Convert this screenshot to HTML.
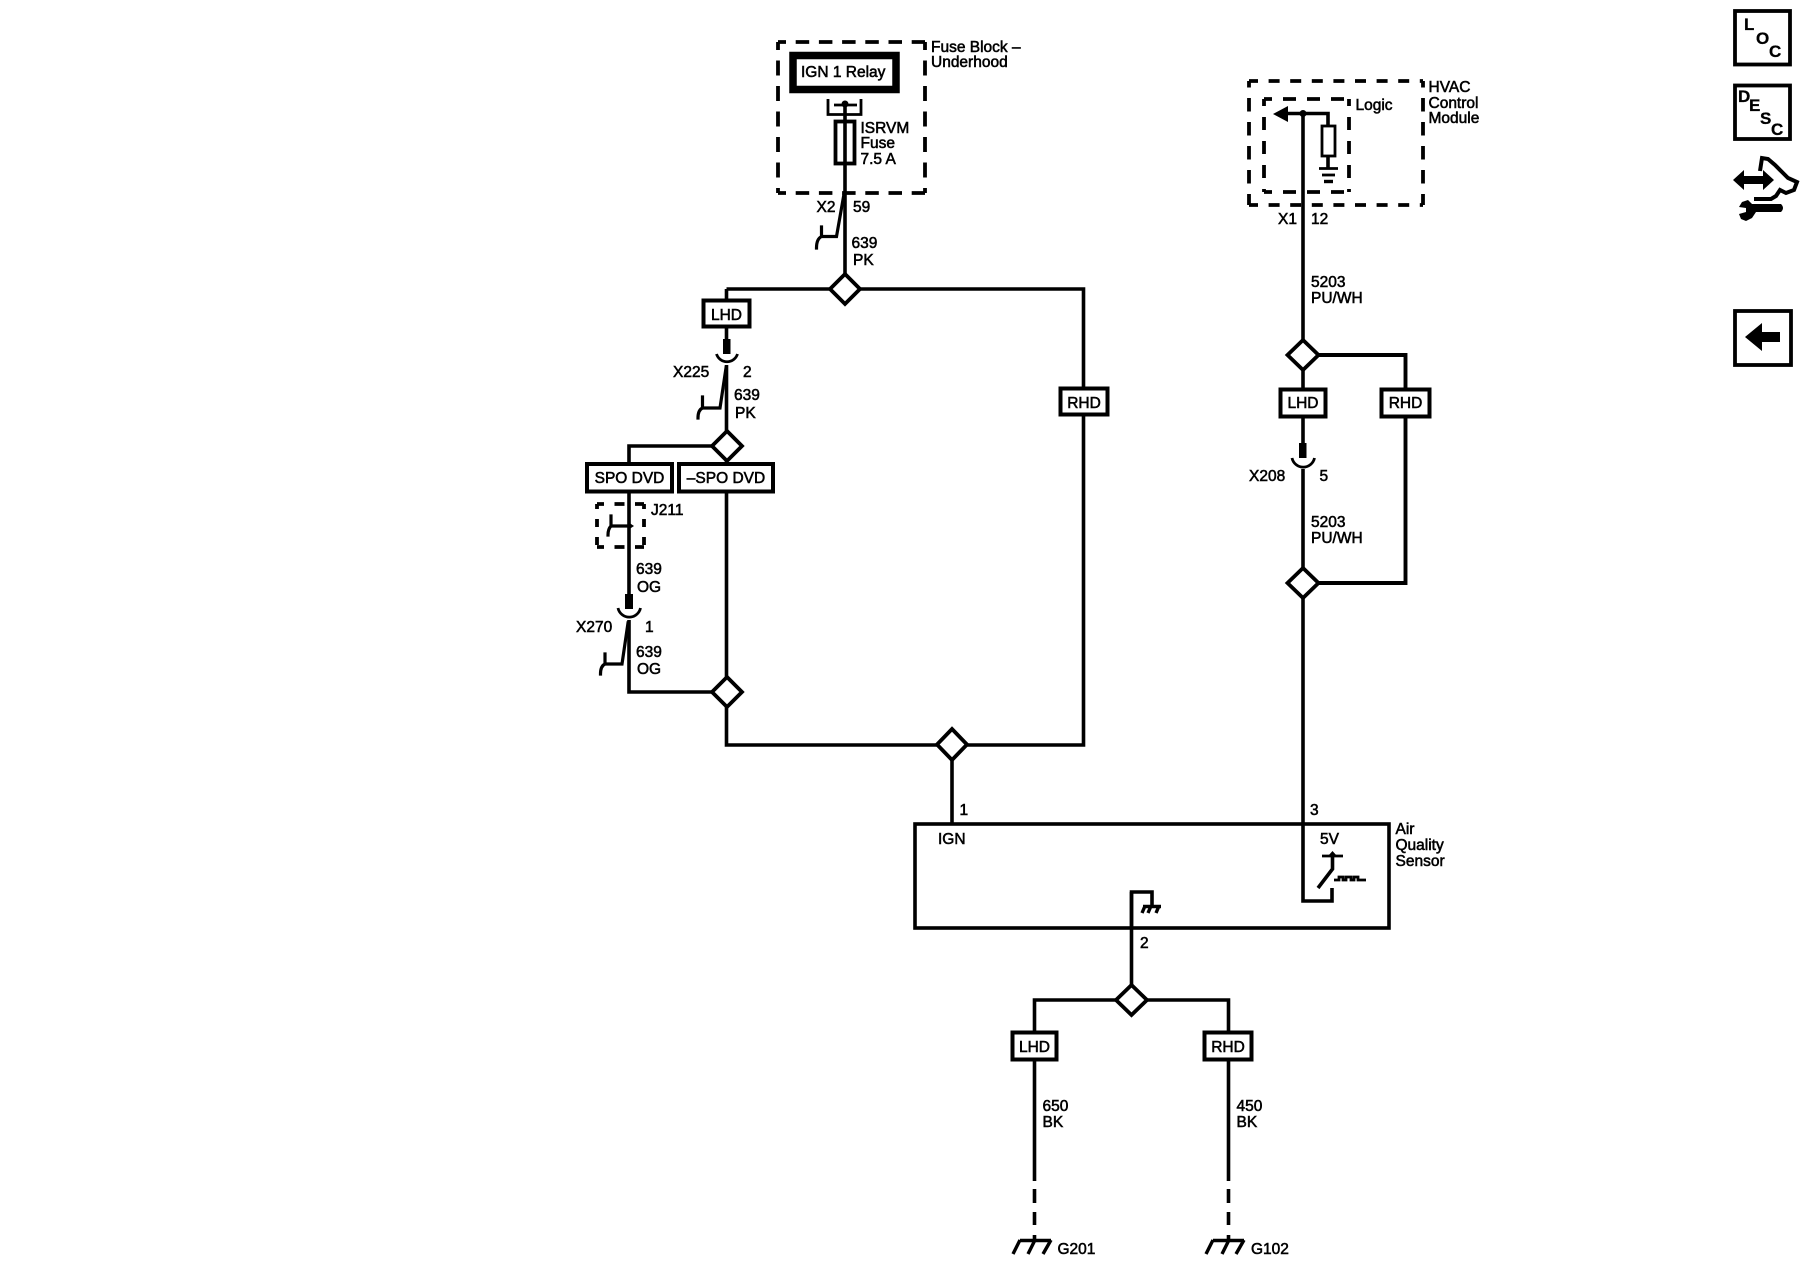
<!DOCTYPE html>
<html><head><meta charset="utf-8"><style>
html,body{margin:0;padding:0;background:#fff}
svg{display:block}
text{font-family:"Liberation Sans",Arial,sans-serif;font-size:15.5px;fill:#000;stroke:#000;stroke-width:.55}
.m{text-anchor:middle}
.b{font-weight:bold;font-size:17px;stroke-width:.3}
.w{fill:none;stroke:#000;stroke-width:3.6}
.t{fill:none;stroke:#000;stroke-width:2.8}
.d{fill:#fff;stroke:#000;stroke-width:3.8;stroke-linejoin:miter}
.r{fill:#fff;stroke:#000;stroke-width:4}
</style></head><body>
<svg width="1800" height="1280" viewBox="0 0 1800 1280" xmlns="http://www.w3.org/2000/svg">
<!-- Dashed enclosures -->
<g fill="none" stroke="#000" stroke-width="3.8">
<path d="M778 42H925" stroke-dasharray="13.5 9.7" stroke-dashoffset="5.5"/>
<path d="M778 193H925" stroke-dasharray="13.5 9.7" stroke-dashoffset="5.5"/>
<path d="M778 42V193" stroke-dasharray="15 10.5" stroke-dashoffset="7"/>
<path d="M925 42V193" stroke-dasharray="15 10.5" stroke-dashoffset="7"/>
<path d="M1249 81H1423" stroke-dasharray="11 10.6" stroke-dashoffset="2"/>
<path d="M1249 205H1423" stroke-dasharray="11 10.6" stroke-dashoffset="2"/>
<path d="M1249 81V205" stroke-dasharray="13.5 10.5" stroke-dashoffset="7"/>
<path d="M1423 81V205" stroke-dasharray="13.5 10.5" stroke-dashoffset="7"/>
<path d="M1264 99H1349" stroke-dasharray="13 11" stroke-dashoffset="5"/>
<path d="M1264 192H1349" stroke-dasharray="13 11" stroke-dashoffset="5"/>
<path d="M1264 99V192" stroke-dasharray="13 11" stroke-dashoffset="6"/>
<path d="M1349 99V192" stroke-dasharray="13 11" stroke-dashoffset="6"/>
<path d="M597 504H644" stroke-dasharray="10 10.5" stroke-dashoffset="3"/>
<path d="M597 547H644" stroke-dasharray="10 10.5" stroke-dashoffset="3"/>
<path d="M597 504V547" stroke-dasharray="8 10" stroke-dashoffset="3"/>
<path d="M644 504V547" stroke-dasharray="8 10" stroke-dashoffset="3"/>
</g>

<!-- Wires -->
<g class="w">
<path class="w" d="M845 103V289"/>
<path class="w" d="M726.500 289H1083.500V745H726.500V692"/>
<path class="w" d="M726.500 289V340"/>
<path class="w" d="M726.500 365V446"/>
<path class="w" d="M726.500 446H629V594"/>
<path class="w" d="M726.500 446V692"/>
<path class="w" d="M629 620V692H726.500"/>
<path class="w" d="M952 745V824"/>
<path class="w" d="M1303 113V443"/>
<path class="w" d="M1303 469V825"/>
<path class="w" d="M1303 355H1405.500V583H1303" style="stroke-width:3.9"/>
<path class="w" d="M1131.500 892V1000"/>
<path class="w" d="M1034.500 1181V1000H1228.500V1181"/>
<path class="w" d="M1034.500 1189V1203M1034.500 1212V1225M1034.500 1235V1241"/>
<path class="w" d="M1228.500 1189V1203M1228.500 1212V1225M1228.500 1235V1241"/>
</g>

<!-- Relay -->
<rect x="793" y="55.500" width="103" height="34" fill="#fff" stroke="#000" stroke-width="7.500"/>
<path class="t" d="M828 99V114.500H861V99M834 105H857"/>
<circle cx="845" cy="104" r="3.500"/>
<rect x="835.500" y="121.500" width="19" height="42" fill="none" stroke="#000" stroke-width="3.800"/>

<!-- Inline connector branches -->
<g class="t" stroke-linecap="square">
<path d="M844 194L836.500 236.500H822M821.500 227V236.500Q816.500 239 816.500 248" stroke-width="3.200"/>
<path d="M726 368L720 408H703.500M702.500 397V408Q698 410 698 418" stroke-width="3.200"/>
<path d="M628 623L622 664H605.500M605 654V664Q600.500 666 600.500 674" stroke-width="3.200"/>
<path d="M629 526H611M611 516V526Q608 529 608 535" stroke-width="3.200"/>
</g>
<polygon points="634,526 628,522 628,530"/>

<!-- Connector cups -->
<rect x="723" y="339" width="7.500" height="15"/>
<path class="t" d="M716.500 354A11 11 0 0 0 737.500 354" stroke-width="3.200"/>
<rect x="625" y="594" width="8" height="15"/>
<path class="t" d="M618 608A11.500 11.500 0 0 0 640.500 608" stroke-width="3.200"/>
<rect x="1299" y="443" width="7.500" height="15"/>
<path class="t" d="M1292 458A11.500 11.500 0 0 0 1314.500 458" stroke-width="3.200"/>

<!-- Diamonds -->
<g class="d">
<polygon class="d" points="845,274 860,289 845,304 830,289"/>
<polygon class="d" points="727,431 742,446 727,461 712,446"/>
<polygon class="d" points="727,677 742,692 727,707 712,692"/>
<polygon class="d" points="952,729 967,744.500 952,760 937,744.500"/>
<polygon class="d" points="1303,340 1318.500,355 1303,370 1287.500,355"/>
<polygon class="d" points="1303,568 1318.500,583 1303,598 1287.500,583"/>
<polygon class="d" points="1131.500,985 1147,1000 1131.500,1015 1116,1000"/>
</g>

<!-- Option boxes -->
<g class="r">
<rect class="r" x="703.500" y="300.500" width="46" height="26"/>
<rect class="r" x="587" y="464" width="85" height="27.500"/>
<rect class="r" x="679" y="464" width="94" height="27.500"/>
<rect class="r" x="1060.500" y="388.500" width="47" height="26"/>
<rect class="r" x="1280.500" y="389.500" width="45" height="27"/>
<rect class="r" x="1381.500" y="389.500" width="48" height="27"/>
<rect class="r" x="1012.500" y="1032.500" width="44" height="27"/>
<rect class="r" x="1204.500" y="1032.500" width="47" height="27"/>
</g>

<!-- HVAC logic -->
<path d="M1273 114L1288 106V122Z"/>
<path class="w" d="M1286 113.500H1328V126M1328 156V169"/>
<circle cx="1303" cy="113.500" r="3.500"/>
<rect x="1322" y="126" width="13" height="30" fill="none" stroke="#000" stroke-width="2.800"/>
<path d="M1319 168.500H1338" stroke="#000" stroke-width="2.800"/>
<path d="M1322 175H1335" stroke="#000" stroke-width="2.800"/>
<path d="M1324 181.500H1333" stroke="#000" stroke-width="3.400"/>

<!-- Sensor -->
<rect x="915" y="824" width="474" height="104" fill="none" stroke="#000" stroke-width="3.600"/>
<path class="w" d="M1303 824V901H1332V888"/>
<path class="t" d="M1322 856H1343" stroke-width="3"/>
<path class="w" d="M1332.500 854V869L1318 888" stroke-width="3.200"/>
<path d="M1332.500 851L1328 856H1337Z"/>
<path d="M1334 880H1339V877H1343V880H1346V877H1351V880H1354V877H1358V880H1366" fill="none" stroke="#000" stroke-width="2.800"/>
<path class="w" d="M1131.500 928V892H1152V906"/>
<path d="M1143 906.500H1161M1145 906L1142 913M1151 906L1148 913M1159 906L1156 913" fill="none" stroke="#000" stroke-width="3.400"/>

<!-- Grounds -->
<path d="M1020 1240.500H1051M1020 1240L1013 1254M1035 1240L1028 1254M1051 1240L1043 1254" fill="none" stroke="#000" stroke-width="3.400"/>
<path d="M1213 1240.500H1244M1213 1240L1206 1254M1229 1240L1222 1254M1244 1240L1236 1254" fill="none" stroke="#000" stroke-width="3.400"/>

<!-- Labels -->
<text x="801" y="77">IGN 1 Relay</text>
<text x="931" y="52">Fuse Block –</text>
<text x="931" y="67">Underhood</text>
<text x="860.500" y="133">ISRVM</text>
<text x="860.500" y="148">Fuse</text>
<text x="860.500" y="164">7.5 A</text>
<text x="816.500" y="212">X2</text>
<text x="853" y="212">59</text>
<text x="851.500" y="248">639</text>
<text x="853" y="265">PK</text>
<text x="726.500" y="320" class="m">LHD</text>
<text x="673" y="377">X225</text>
<text x="743" y="377">2</text>
<text x="734" y="400">639</text>
<text x="735" y="418">PK</text>
<text x="629.500" y="483" class="m">SPO DVD</text>
<text x="726" y="483" class="m">–SPO DVD</text>
<text x="651" y="515">J211</text>
<text x="636" y="574">639</text>
<text x="637" y="592">OG</text>
<text x="576" y="632">X270</text>
<text x="645" y="632">1</text>
<text x="636" y="657">639</text>
<text x="637" y="674">OG</text>
<text x="1084" y="408" class="m">RHD</text>
<text x="1428.500" y="92">HVAC</text>
<text x="1428.500" y="108">Control</text>
<text x="1428.500" y="123">Module</text>
<text x="1355.500" y="110">Logic</text>
<text x="1278" y="224">X1</text>
<text x="1311" y="224">12</text>
<text x="1311" y="287">5203</text>
<text x="1311" y="303">PU/WH</text>
<text x="1303" y="408" class="m">LHD</text>
<text x="1405.500" y="408" class="m">RHD</text>
<text x="1249" y="481">X208</text>
<text x="1319.500" y="481">5</text>
<text x="1311" y="527">5203</text>
<text x="1311" y="543">PU/WH</text>
<text x="959.500" y="815">1</text>
<text x="1310" y="815">3</text>
<text x="938" y="844">IGN</text>
<text x="1320" y="844">5V</text>
<text x="1395.500" y="834">Air</text>
<text x="1395.500" y="850">Quality</text>
<text x="1395.500" y="866">Sensor</text>
<text x="1140" y="948">2</text>
<text x="1034.500" y="1052" class="m">LHD</text>
<text x="1228" y="1052" class="m">RHD</text>
<text x="1042.500" y="1111">650</text>
<text x="1042.500" y="1127">BK</text>
<text x="1236.500" y="1111">450</text>
<text x="1236.500" y="1127">BK</text>
<text x="1057.500" y="1254">G201</text>
<text x="1251" y="1254">G102</text>

<!-- Right toolbar -->
<rect x="1735" y="11" width="55" height="53.500" fill="none" stroke="#000" stroke-width="3.800"/>
<text class="b" x="1744" y="30">L</text><text class="b" x="1756" y="44">O</text><text class="b" x="1769" y="57">C</text>
<rect x="1735" y="85.500" width="55" height="53.500" fill="none" stroke="#000" stroke-width="3.800"/>
<text class="b" x="1738" y="102">D</text><text class="b" x="1749" y="111">E</text><text class="b" x="1760" y="124">S</text><text class="b" x="1771" y="135">C</text>
<path d="M1733 180L1744 170V176H1763V170L1774 180L1763 190V184H1744V190Z"/>
<path d="M1760 171L1762 158L1768 159L1775 165L1782 172L1788 178L1797 182L1794 190L1786 193L1780 190L1776 196L1771 199L1754 199" fill="none" stroke="#000" stroke-width="4"/>
<path d="M1752 204H1781Q1785 208 1781 212H1756L1752 218L1746 221L1741 219L1739 214L1746 212L1746 208L1739 207L1742 202L1748 200Z"/>
<rect x="1735" y="311" width="56" height="54" fill="none" stroke="#000" stroke-width="3.800"/>
<path d="M1745 337L1762 323V332H1780V342H1762V351Z"/>
</svg>
</body></html>
